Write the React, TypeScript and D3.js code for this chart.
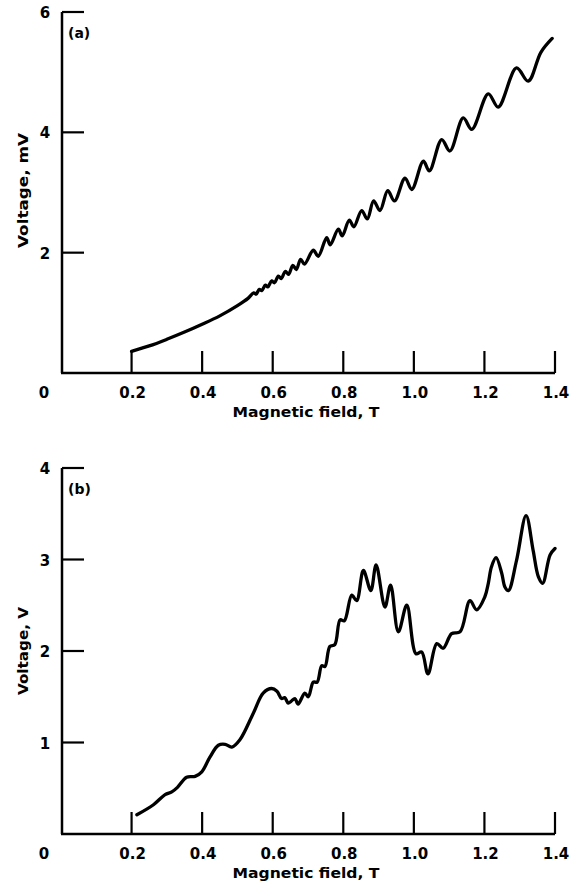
import React from 'react';
import * as d3 from 'd3';

// ---- data ----
const xTickValues = [0.2, 0.4, 0.6, 0.8, 1.0, 1.2, 1.4];
const xTickLabels = ['0.2', '0.4', '0.6', '0.8', '1.0', '1.2', '1.4'];

const yTicksA = [2, 4, 6];
const yTickLabelsA = ['2', '4', '6'];
const yTicksB = [1, 2, 3, 4];
const yTickLabelsB = ['1', '2', '3', '4'];

// panel (a): voltage (mV) vs magnetic field (T)
const fieldA = [
  0.2, 0.25, 0.3, 0.35, 0.4, 0.45, 0.5, 0.53,
  0.546, 0.553, 0.562, 0.569, 0.579, 0.586, 0.597, 0.605, 0.616, 0.624,
  0.636, 0.645, 0.657, 0.667, 0.679, 0.69, 0.715, 0.729, 0.753, 0.763,
  0.786, 0.797, 0.817, 0.83, 0.852, 0.868, 0.886, 0.904, 0.926, 0.945,
  0.975, 0.994, 1.027, 1.044, 1.079, 1.102, 1.14, 1.164, 1.211, 1.239,
  1.291, 1.324, 1.36, 1.392,
];
const voltageA = [
  0.36, 0.45, 0.56, 0.68, 0.81, 0.95, 1.12, 1.24,
  1.33, 1.31, 1.39, 1.37, 1.46, 1.43, 1.53, 1.5, 1.61, 1.57,
  1.69, 1.64, 1.79, 1.72, 1.89, 1.81, 2.04, 1.94, 2.25, 2.13,
  2.39, 2.28, 2.54, 2.43, 2.7, 2.56, 2.86, 2.7, 3.03, 2.86,
  3.24, 3.05, 3.52, 3.36, 3.88, 3.69, 4.24, 4.05, 4.64, 4.42,
  5.07, 4.85, 5.33, 5.56,
];

// panel (b): voltage (V) vs magnetic field (T)
const fieldB = [
  0.215, 0.262, 0.295, 0.314, 0.33, 0.356, 0.38, 0.399, 0.422, 0.446,
  0.465, 0.484, 0.507, 0.545, 0.573, 0.597, 0.612, 0.625, 0.634, 0.644,
  0.652, 0.663, 0.672, 0.691, 0.701, 0.715, 0.726, 0.739, 0.748, 0.762,
  0.776, 0.791, 0.803, 0.824, 0.838, 0.857, 0.878, 0.893, 0.918, 0.934,
  0.956, 0.98, 1.006, 1.022, 1.04, 1.065, 1.083, 1.107, 1.131, 1.159,
  1.178, 1.201, 1.211, 1.22, 1.233, 1.249, 1.258, 1.268, 1.291, 1.318,
  1.338, 1.353, 1.365, 1.386, 1.4,
];
const voltageB = [
  0.21, 0.32, 0.43, 0.46, 0.51, 0.62, 0.63, 0.68, 0.84, 0.97,
  0.98, 0.95, 1.03, 1.32, 1.54, 1.59, 1.56, 1.48, 1.49, 1.43,
  1.45, 1.48, 1.42, 1.54, 1.5, 1.66, 1.66, 1.84, 1.83, 2.05,
  2.07, 2.34, 2.33, 2.61, 2.55, 2.88, 2.66, 2.94, 2.48, 2.72,
  2.21, 2.5, 1.97, 1.99, 1.75, 2.08, 2.03, 2.19, 2.21, 2.55,
  2.45, 2.59, 2.74, 2.92, 3.02, 2.85, 2.7, 2.66, 2.99, 3.48,
  3.1, 2.81, 2.74, 3.05, 3.12,
];

const FONT = '"DejaVu Sans", "Liberation Sans", Arial, sans-serif';

type PanelProps = {
  fields: number[];
  volts: number[];
  yMax: number;
  yTop: number;
  yBottom: number;
  yTicks: number[];
  yTickLabels: string[];
  tag: string;
  yTitle: string;
  yTitleLen: number;
};

function Panel(p: PanelProps) {
  const x = d3.scaleLinear().domain([0, 1.4]).range([61, 555]);
  const y = d3.scaleLinear().domain([0, p.yMax]).range([p.yBottom, p.yTop]);
  const axisX = 62;
  const tickLen = 22;
  const pts: [number, number][] = p.fields.map((f, i) => [f, p.volts[i]]);
  const line = d3
    .line<[number, number]>()
    .x((d) => x(d[0]))
    .y((d) => y(d[1]))
    .curve(d3.curveCatmullRom.alpha(0.5));
  const labelY = y(0) + 25;
  const yMid = (y(0) + y(p.yMax)) / 2;
  return (
    <g fontFamily={FONT} fontWeight="bold" fill="#000">
      {/* axes */}
      <line x1={axisX} x2={axisX} y1={y(p.yMax)} y2={y(0)} stroke="#000" strokeWidth={2.5} />
      <line x1={axisX - 1} x2={x(1.4)} y1={y(0)} y2={y(0)} stroke="#000" strokeWidth={2.5} />
      {p.yTicks.map((t, i) => (
        <g key={'yt' + i}>
          <line x1={axisX} x2={axisX + tickLen} y1={y(t)} y2={y(t)} stroke="#000" strokeWidth={2.2} />
          <text x={45} y={y(t) + 6} textAnchor="middle" fontSize={15}>
            {p.yTickLabels[i]}
          </text>
        </g>
      ))}
      {xTickValues.map((t, i) => (
        <g key={'xt' + i}>
          <line x1={x(t)} x2={x(t)} y1={y(0)} y2={y(0) - tickLen} stroke="#000" strokeWidth={2.2} />
          <text x={x(t) + 1} y={labelY} textAnchor="middle" fontSize={15}>
            {xTickLabels[i]}
          </text>
        </g>
      ))}
      <text x={44} y={labelY} textAnchor="middle" fontSize={15}>0</text>
      {/* curve */}
      <path d={line(pts) || ''} fill="none" stroke="#000" strokeWidth={3.3} strokeLinejoin="round" strokeLinecap="round" />
      {/* labels */}
      <text x={68} y={y(p.yMax) + 26} fontSize={14}>{p.tag}</text>
      <text x={306} y={y(0) + 44} textAnchor="middle" fontSize={13.5} textLength={147} lengthAdjust="spacingAndGlyphs">
        Magnetic field, T
      </text>
      <text
        transform={`translate(28,${yMid + (p.yMax === 6 ? -2 : 0)}) rotate(-90)`}
        textAnchor="middle"
        fontSize={14}
        textLength={p.yTitleLen}
        lengthAdjust="spacingAndGlyphs"
      >
        {p.yTitle}
      </text>
    </g>
  );
}

export default function App() {
  return (
    <svg
      width={573}
      height={889}
      viewBox="0 0 573 889"
      style={{ position: 'absolute', left: 0, top: 0, background: '#fff' }}
    >
      <rect width={573} height={889} fill="#fff" />
      <Panel
        fields={fieldA}
        volts={voltageA}
        yMax={6}
        yTop={12}
        yBottom={373}
        yTicks={yTicksA}
        yTickLabels={yTickLabelsA}
        tag="(a)"
        yTitle="Voltage, mV"
        yTitleLen={115}
      />
      <Panel
        fields={fieldB}
        volts={voltageB}
        yMax={4}
        yTop={468}
        yBottom={834}
        yTicks={yTicksB}
        yTickLabels={yTickLabelsB}
        tag="(b)"
        yTitle="Voltage, V"
        yTitleLen={88}
      />
    </svg>
  );
}
